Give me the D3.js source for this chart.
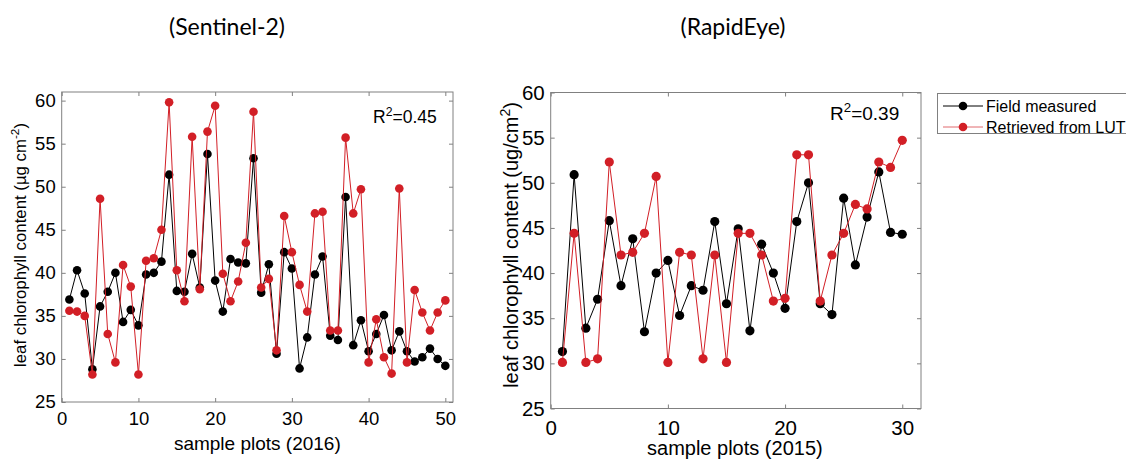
<!DOCTYPE html>
<html>
<head>
<meta charset="utf-8">
<script src="https://cdn.jsdelivr.net/npm/d3@7"></script>
<style>
  html, body { margin: 0; padding: 0; background: #fff; }
  svg { display: block; }
  .tick text { fill: #000; }
</style>
</head>
<body>
<svg id="chart" width="1126" height="462"></svg>
<script>
// ---------- DATA ----------
const s2Plots = d3.range(1, 51);
const s2Field = [36.9, 40.3, 37.6, 28.8, 36.1, 37.8, 40.0, 34.3, 35.7, 33.9,
                 39.8, 40.0, 41.3, 51.4, 37.9, 37.8, 42.2, 38.3, 53.8, 39.1,
                 35.5, 41.6, 41.2, 41.1, 53.3, 37.7, 41.0, 30.6, 42.4, 40.5,
                 28.9, 32.5, 39.8, 41.9, 32.7, 32.2, 48.8, 31.6, 34.5, 30.9,
                 32.9, 35.1, 31.0, 33.2, 30.9, 29.7, 30.2, 31.2, 30.0, 29.2];
const s2LUT   = [35.6, 35.5, 35.0, 28.2, 48.6, 32.9, 29.6, 40.9, 38.4, 28.2,
                 41.4, 41.7, 45.0, 59.8, 40.3, 36.7, 55.8, 38.1, 56.4, 59.4,
                 39.9, 36.7, 39.0, 43.5, 58.7, 38.3, 39.3, 31.0, 46.6, 42.4,
                 38.6, 35.5, 46.9, 47.1, 33.3, 33.3, 55.7, 46.9, 49.7, 29.6,
                 34.6, 30.2, 28.3, 49.8, 29.6, 38.0, 35.4, 33.3, 35.4, 36.8];
const rePlots = d3.range(1, 31);
const reField = [31.3, 50.9, 33.9, 37.1, 45.8, 38.6, 43.8, 33.5, 40.0, 41.4,
                 35.3, 38.6, 38.1, 45.7, 36.6, 44.9, 33.6, 43.2, 40.0, 36.1,
                 45.7, 50.0, 36.6, 35.4, 48.3, 40.9, 46.2, 51.2, 44.5, 44.3];
const reLUT   = [30.1, 44.4, 30.1, 30.5, 52.3, 42.0, 42.3, 44.4, 50.7, 30.1,
                 42.3, 42.0, 30.5, 42.0, 30.1, 44.4, 44.4, 42.0, 36.9, 37.2,
                 53.1, 53.1, 36.9, 42.0, 44.4, 47.6, 47.1, 52.3, 51.7, 54.7];
const s2XTicks = [0, 10, 20, 30, 40, 50];
const reXTicks = [0, 10, 20, 30];
const yTicks = [25, 30, 35, 40, 45, 50, 55, 60];
const seriesNames = ["Field measured", "Retrieved from LUT"];
const titles = ["(Sentinel-2)", "(RapidEye)"];
const xLabels = ["sample plots (2016)", "sample plots (2015)"];
const r2Labels = ["0.45", "0.39"];

// ---------- STYLE ----------
const BLACK = "#000000", RED = "#d21f26", AXIS = "#808080";
const FONT = "'Liberation Sans', Arial, sans-serif";
const svg = d3.select("#chart");

function panel(cfg) {
  const x = d3.scaleLinear().domain(cfg.xDomain).range([cfg.left, cfg.right]);
  const y = d3.scaleLinear().domain(cfg.yDomain).range([cfg.bottom, cfg.top]);
  const g = svg.append("g");

  // box
  g.append("rect").attr("x", cfg.left).attr("y", cfg.top)
    .attr("width", cfg.right - cfg.left).attr("height", cfg.bottom - cfg.top)
    .attr("fill", "none").attr("stroke", AXIS).attr("stroke-width", 1);

  const styleAxis = (sel, fs) => {
    sel.select(".domain").remove();
    sel.selectAll(".tick line").attr("stroke", AXIS);
    sel.selectAll(".tick text").style("font-family", FONT).style("font-size", fs + "px").attr("fill", "#000");
  };
  const tl = cfg.tickLen;
  g.append("g").attr("transform", `translate(0,${cfg.bottom})`)
    .call(d3.axisBottom(x).tickValues(cfg.xTicks).tickSize(-tl).tickPadding(cfg.xPad).tickFormat(d3.format("d")))
    .call(s => styleAxis(s, cfg.tickFont));
  g.append("g").attr("transform", `translate(0,${cfg.top})`)
    .call(d3.axisTop(x).tickValues(cfg.xTicks).tickSize(-tl).tickFormat(""))
    .call(s => styleAxis(s, cfg.tickFont));
  g.append("g").attr("transform", `translate(${cfg.left},0)`)
    .call(d3.axisLeft(y).tickValues(yTicks).tickSize(-tl).tickPadding(cfg.yPad).tickFormat(d3.format("d")))
    .call(s => styleAxis(s, cfg.tickFont));
  g.append("g").attr("transform", `translate(${cfg.right},0)`)
    .call(d3.axisRight(y).tickValues(yTicks).tickSize(-tl).tickFormat(""))
    .call(s => styleAxis(s, cfg.tickFont));

  // series
  const line = d3.line().x((d, i) => x(cfg.xs[i])).y(d => y(d));
  [[cfg.field, BLACK], [cfg.lut, RED]].forEach(([vals, col]) => {
    g.append("path").datum(vals).attr("d", line)
      .attr("fill", "none").attr("stroke", col).attr("stroke-width", 1);
    g.selectAll(null).data(vals).enter().append("circle")
      .attr("cx", (d, i) => x(cfg.xs[i])).attr("cy", d => y(d))
      .attr("r", cfg.r).attr("fill", col);
  });

  // R^2
  const rt = g.append("text").attr("x", cfg.r2x).attr("y", cfg.r2y)
    .style("font-family", FONT).style("font-size", cfg.r2Font + "px");
  rt.append("tspan").text("R");
  rt.append("tspan").attr("dy", -cfg.r2Font * 0.4).style("font-size", (cfg.r2Font * 0.7) + "px").text("2");
  rt.append("tspan").attr("dy", cfg.r2Font * 0.4).text("=" + cfg.r2);

  // title
  svg.append("text").attr("x", cfg.titleX).attr("y", 35).attr("text-anchor", "middle")
    .style("font-family", "Lato, 'Open Sans', sans-serif").style("font-size", "23px").text(cfg.title);

  // x label
  svg.append("text").attr("x", (cfg.left + cfg.right) / 2 + cfg.xLabelDx).attr("y", cfg.xLabelY)
    .attr("text-anchor", "middle").style("font-family", FONT).style("font-size", cfg.labelFont + "px")
    .text(cfg.xLabel);

  // y label
  const yl = svg.append("text")
    .attr("transform", `translate(${cfg.yLabelX},${cfg.yLabelY}) rotate(-90)`)
    .attr("text-anchor", "middle").style("font-family", FONT).style("font-size", cfg.yLabelFont + "px");
  cfg.yLabel(yl, cfg.yLabelFont);
}

panel({
  left: 61.7, right: 453, top: 92, bottom: 402,
  xDomain: [0, 51], yDomain: [25, 61], xTicks: s2XTicks,
  xs: s2Plots, field: s2Field, lut: s2LUT, r: 4.3, tickLen: 4,
  tickFont: 18.5, xPad: 10, yPad: 6, labelFont: 19,
  r2: r2Labels[0], r2x: 373, r2y: 123, r2Font: 17.5,
  title: titles[0], titleX: 227, xLabel: xLabels[0], xLabelY: 450, xLabelDx: 0,
  yLabelX: 26, yLabelY: 245, yLabelFont: 16.8,
  yLabel: (t, fs) => {
    t.append("tspan").text("leaf chlorophyll content (\u00b5g cm");
    t.append("tspan").attr("dy", -fs * 0.4).style("font-size", (fs * 0.7) + "px").text("-2");
    t.append("tspan").attr("dy", fs * 0.4).text(")");
  }
});

panel({
  left: 550.7, right: 921, top: 92.5, bottom: 408.5,
  xDomain: [0, 31.6], yDomain: [25, 60], xTicks: reXTicks,
  xs: rePlots, field: reField, lut: reLUT, r: 4.6, tickLen: 4,
  tickFont: 20.5, xPad: 12, yPad: 6, labelFont: 20,
  r2: r2Labels[1], r2x: 830, r2y: 120, r2Font: 19,
  title: titles[1], titleX: 733, xLabel: xLabels[1], xLabelY: 455, xLabelDx: -1,
  yLabelX: 518, yLabelY: 245, yLabelFont: 20,
  yLabel: (t, fs) => {
    t.append("tspan").text("leaf chlorophyll content (ug/cm");
    t.append("tspan").attr("dy", -fs * 0.4).style("font-size", (fs * 0.7) + "px").text("2");
    t.append("tspan").attr("dy", fs * 0.4).text(")");
  }
});

// ---------- LEGEND ----------
const lg = svg.append("g");
lg.append("rect").attr("x", 937.5).attr("y", 93.5).attr("width", 200).attr("height", 40)
  .attr("fill", "#fff").attr("stroke", AXIS).attr("stroke-width", 1);
[[BLACK, 106], ["#e06a6e", 127]].forEach(([col, yy], i) => {
  lg.append("line").attr("x1", 943).attr("x2", 983).attr("y1", yy).attr("y2", yy)
    .attr("stroke", col).attr("stroke-width", 1);
  lg.append("circle").attr("cx", 963).attr("cy", yy).attr("r", 4.3).attr("fill", i === 0 ? BLACK : RED);
  lg.append("text").attr("x", 986).attr("y", yy + 5.5)
    .style("font-family", FONT).style("font-size", "16px").text(seriesNames[i]);
});
</script>
</body>
</html>
